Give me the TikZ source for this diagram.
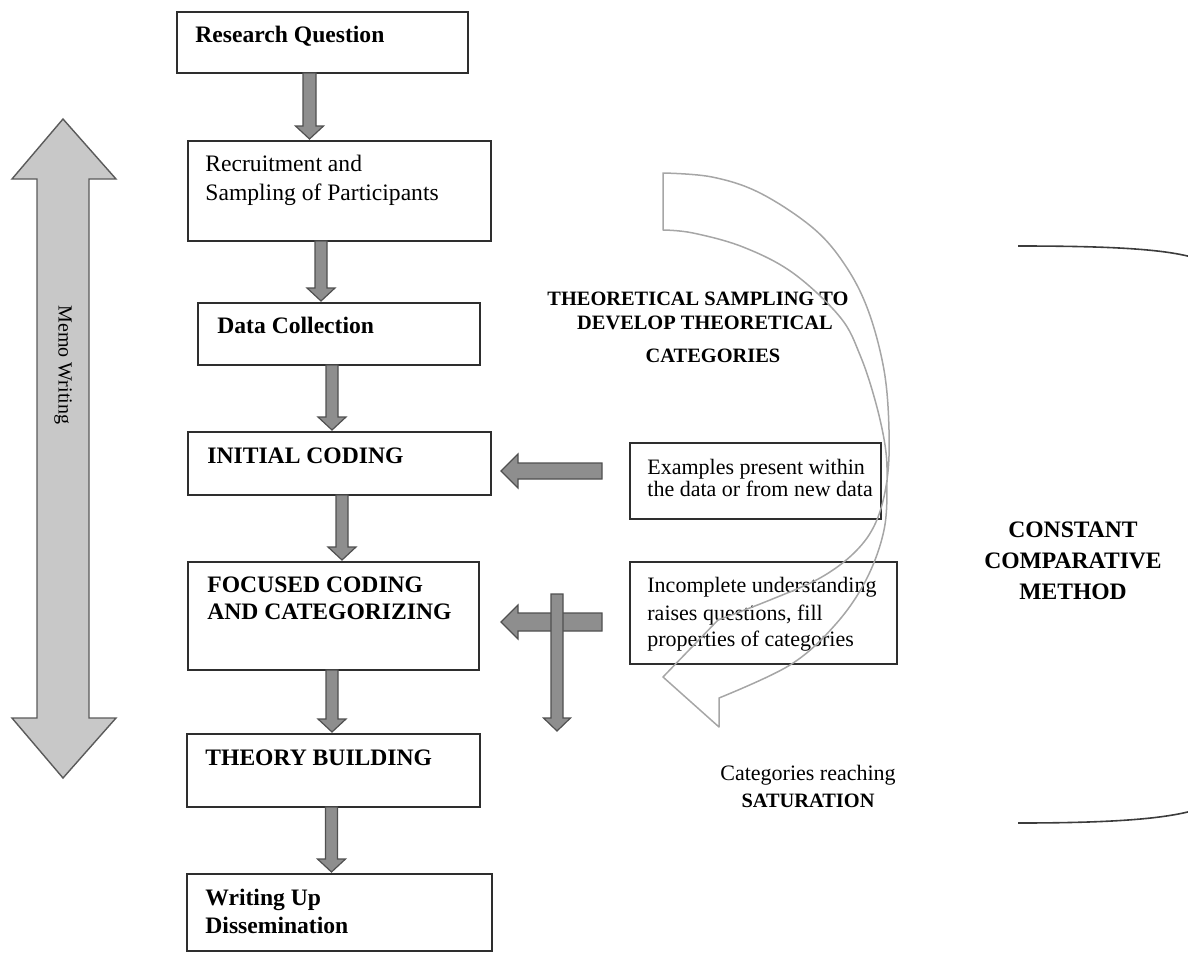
\documentclass[tikz,border=0pt]{standalone}
\usepackage{fontspec}
\setmainfont{Liberation Serif}
\usetikzlibrary{calc}
\definecolor{boxline}{HTML}{2E2E2E}
\definecolor{blkfill}{HTML}{8E8E8E}
\definecolor{blkline}{HTML}{505050}
\definecolor{memofill}{HTML}{C8C8C8}
\definecolor{memoline}{HTML}{5A5A5A}
\definecolor{curvline}{HTML}{A6A6A6}
\definecolor{brline}{HTML}{3C3C3C}
% down-pointing block arrow: #1 tail, #2 tip, #3 shaft half, #4 head half, #5 head length
\newcommand{\vblk}[5]{%
  \draw[blk] ([xshift=-#3]#1) -- ([shift={(-#3,#5)}]#2) -- ([shift={(-#4,#5)}]#2) -- (#2)
    -- ([shift={(#4,#5)}]#2) -- ([shift={(#3,#5)}]#2) -- ([xshift=#3]#1) -- cycle;}
% left-pointing block arrow
\newcommand{\hblk}[5]{%
  \draw[blk] ([yshift=#3]#1) -- ([shift={(#5,#3)}]#2) -- ([shift={(#5,#4)}]#2) -- (#2)
    -- ([shift={(#5,-#4)}]#2) -- ([shift={(#5,-#3)}]#2) -- ([yshift=-#3]#1) -- cycle;}
\begin{document}
\begin{tikzpicture}[x=0.5pt,y=-0.5pt,
  box/.style={draw=boxline, line width=1pt, fill=white, inner sep=0pt, outer sep=0pt, anchor=north west},
  blk/.style={draw=blkline, fill=blkfill, line width=0.6pt, line join=miter},
  lbl/.style={anchor=base west, inner sep=0pt, font=\fontsize{11.8}{14}\selectfont},
  lblb/.style={anchor=base west, inner sep=0pt, font=\fontsize{11.8}{14}\selectfont\bfseries},
  side/.style={anchor=base west, inner sep=0pt, font=\fontsize{11}{13}\selectfont},
  head/.style={anchor=base, inner sep=0pt, font=\fontsize{10.2}{12}\selectfont\bfseries},
  ccm/.style={anchor=base, inner sep=0pt, font=\fontsize{11.8}{14}\selectfont\bfseries}]
\useasboundingbox (0,0) rectangle (1188,953);
\clip (0,0) rectangle (1188,953);

% Memo writing double arrow
\draw[draw=memoline, fill=memofill, line width=0.7pt]
  (63,119) -- (116,179) -- (89,179) -- (89,718) -- (116,718) -- (63,778)
  -- (12,718) -- (37,718) -- (37,179) -- (12,179) -- cycle;
\node[rotate=-90, inner sep=0pt, font=\fontsize{10}{12}\selectfont] (memo) at (63,365) {Memo Writing};

% main boxes
\node[box, minimum width=145.5pt, minimum height=30.5pt] (b1) at (177,12) {};
\node[box, minimum width=151.5pt, minimum height=50pt]   (b2) at (188,141) {};
\node[box, minimum width=141pt,   minimum height=31pt]   (b3) at (198,303) {};
\node[box, minimum width=151.5pt, minimum height=31.5pt] (b4) at (188,432) {};
\node[box, minimum width=145.5pt, minimum height=54pt]   (b5) at (188,562) {};
\node[box, minimum width=146.5pt, minimum height=36.5pt] (b6) at (187,734) {};
\node[box, minimum width=152.5pt, minimum height=38.5pt] (b7) at (187,874) {};
% side boxes
\node[box, minimum width=125.5pt, minimum height=38pt] (sA) at (630,443) {};
\node[box, minimum width=133.5pt, minimum height=51pt] (sB) at (630,562) {};

% box texts
\node[lblb] (t1) at (195,42) {Research Question};
\node[lbl] (t2a) at (205,171) {Recruitment and};
\node[lbl] (t2b) at (205,200) {Sampling of Participants};
\node[lblb] (t3) at (217,333) {Data Collection};
\node[lblb] (t4) at (207,463) {INITIAL CODING};
\node[lblb] (t5a) at (207,592) {FOCUSED CODING};
\node[lblb] (t5b) at (207,619) {AND CATEGORIZING};
\node[lblb] (t6) at (205,765) {THEORY BUILDING};
\node[lblb] (t7a) at (205,905) {Writing Up};
\node[lblb] (t7b) at (205,933) {Dissemination};
\node[side] (sAa) at (647,474) {Examples present within};
\node[side] (sAb) at (647,496) {the data or from new data};
\node[side] (sBa) at (647,592) {Incomplete understanding};
\node[side] (sBb) at (647,620) {raises questions, fill};
\node[side] (sBc) at (647,646) {properties of categories};

% vertical block arrows between boxes
\coordinate (a1x) at (309.5,0);
\coordinate (a1s) at (b1.south -| a1x);
\coordinate[yshift=1pt] (a1e) at (b2.north -| a1x);
\vblk{a1s}{a1e}{3.25pt}{7pt}{6.5pt}
\coordinate (a2x) at (321,0);
\coordinate (a2s) at (b2.south -| a2x);
\coordinate[yshift=1pt] (a2e) at (b3.north -| a2x);
\vblk{a2s}{a2e}{3pt}{7pt}{6.5pt}
\coordinate (a3x) at (332,0);
\coordinate (a3s) at (b3.south -| a3x);
\coordinate[yshift=1pt] (a3e) at (b4.north -| a3x);
\vblk{a3s}{a3e}{3pt}{7pt}{6.5pt}
\coordinate (a4x) at (342,0);
\coordinate (a4s) at (b4.south -| a4x);
\coordinate[yshift=1pt] (a4e) at (b5.north -| a4x);
\vblk{a4s}{a4e}{3pt}{7pt}{6.5pt}
\coordinate (a5x) at (332,0);
\coordinate (a5s) at (b5.south -| a5x);
\coordinate[yshift=1pt] (a5e) at (b6.north -| a5x);
\vblk{a5s}{a5e}{3pt}{7pt}{6.5pt}
\coordinate (a6x) at (331.5,0);
\coordinate (a6s) at (b6.south -| a6x);
\coordinate[yshift=1pt] (a6e) at (b7.north -| a6x);
\vblk{a6s}{a6e}{3pt}{7pt}{6.5pt}

% horizontal block arrows from side boxes
\coordinate (hAs) at (602,471);
\coordinate (hAe) at (501,471);
\hblk{hAs}{hAe}{4pt}{8.5pt}{8.5pt}
\coordinate (hBs) at (602,622);
\coordinate (hBe) at (501,622);
\hblk{hBs}{hBe}{4.5pt}{8.5pt}{8.5pt}
% vertical arrow towards saturation
\coordinate (vCs) at (557,594);
\coordinate (vCe) at (557,731);
\vblk{vCs}{vCe}{3pt}{6.75pt}{6.5pt}

% headings
\node[head] (h1) at (698,305) {THEORETICAL SAMPLING TO};
\node[head] (h2) at (705,329) {DEVELOP THEORETICAL};
\node[head] (h3) at (713,362) {CATEGORIES};
\node[anchor=base, inner sep=0pt, font=\fontsize{11}{13}\selectfont] (s1) at (808,780) {Categories reaching};
\node[head] (s2) at (808,807) {SATURATION};
\node[ccm] (c1) at (1073,537) {CONSTANT};
\node[ccm] (c2) at (1073,568) {COMPARATIVE};
\node[ccm] (c3) at (1073,599) {METHOD};

% curved outline arrow
\draw[curvline, line width=0.75pt, line join=round]
  plot[smooth, tension=0.6] coordinates {(663,173) (712,177) (760,193) (813,228) (845,265) (868,310) (884,370) (889,430) (887,480) (876,522) (855,552) (820,578) (770,600) (718,620)}
  -- (663,677) -- (719,727) -- (719,698)
  -- plot[smooth, tension=0.6] coordinates {(719,698) (790,665) (835,625) (866,580) (884,530) (887,480) (885,445) (875,400) (860,355) (840,317) (793,273) (743,247) (693,233) (663,230)}
  -- cycle;

% right bracket
\draw[brline, line width=0.8pt] (1018,246) .. controls (1110,246) and (1165,249) .. (1195,258);
\draw[brline, line width=0.8pt] (1018,823) .. controls (1110,823) and (1165,819) .. (1195,810);
\end{tikzpicture}
\end{document}
